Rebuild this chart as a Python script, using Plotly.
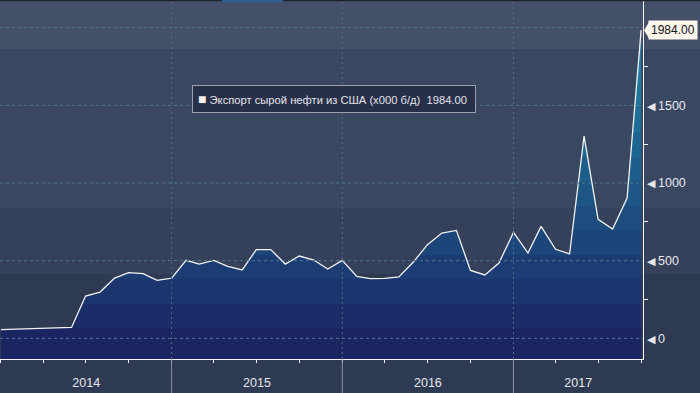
import plotly.graph_objects as go
import pandas as pd

# ---------------- data ----------------
months = pd.date_range("2014-01-01", "2017-10-01", freq="MS")
exports = [56, 58, 61, 63, 66, 70,
           272, 298, 388, 423, 416, 373,
           388, 502, 478, 502, 463, 440, 571, 571, 478, 530, 504, 446,
           502, 399, 384, 386, 395, 491, 603, 678, 695, 437, 408, 485,
           682, 549, 721, 573, 543, 1302, 766, 704, 903, 1984]
series_name = "Экспорт сырой нефти из США (х000 б/д)"
year_labels = ["2014", "2015", "2016", "2017"]
y_tick_vals = [0, 500, 1000, 1500]
y_minor_vals = [250, 750, 1250, 1750]
grid_vals = [0, 500, 1000, 1500, 2000]

X_RANGE = [pd.Timestamp("2013-12-30"), pd.Timestamp("2017-10-05")]
Y_MIN, Y_MAX = -133, 2178

# ---------------- styling ----------------
W, H = 700, 393
ML, MR, MT, MB = 0, 57, 0, 34
PW, PH = W - ML - MR, H - MT - MB
FONT = "Liberation Sans"
TXT = "#e6e6ef"

# year label positions: centre of the visible part of each year
year_pos = []
for y in year_labels:
    s = max(pd.Timestamp(f"{y}-01-01"), X_RANGE[0]) if y != year_labels[0] else pd.Timestamp(f"{y}-01-01")
    e = min(pd.Timestamp(f"{int(y)+1}-01-01"), X_RANGE[1])
    year_pos.append(s + (e - s) / 2)
quarters = pd.date_range("2014-01-01", "2017-10-01", freq="QS")
year_starts = [pd.Timestamp(f"{y}-01-01") for y in year_labels[1:]]

# banded fill gradient (discrete steps)
band_edges = [Y_MIN, 64, 222, 380, 538, 696, 854, 1012, 1170, 1328, 1486, 1644, 1802, 1960, Y_MAX]
c0, c1 = (27, 37, 98), (31, 142, 174)
nb = len(band_edges) - 1
scale = []
for i in range(nb):
    t = i / (nb - 1)
    col = "rgb(%d,%d,%d)" % tuple(round(a + (b - a) * t) for a, b in zip(c0, c1))
    lo = (band_edges[i] - Y_MIN) / (Y_MAX - Y_MIN)
    hi = (band_edges[i + 1] - Y_MIN) / (Y_MAX - Y_MIN)
    scale.append([lo, col])
    scale.append([hi, col])

fig = go.Figure()
fig.add_trace(go.Scatter(x=months, y=[Y_MIN] * len(months), mode="lines",
                         line=dict(width=0), showlegend=False, hoverinfo="skip"))
fig.add_trace(go.Scatter(
    x=months, y=exports, mode="lines", name=series_name,
    line=dict(color="#f2f2f2", width=1.3),
    fill="tonexty",
    fillgradient=dict(type="vertical", colorscale=scale, start=Y_MIN, stop=Y_MAX),
    showlegend=False))

shapes = []
# background bands (full width)
bg_bands = [(0, 49, "#444f68"), (49, 208, "#3a4761"), (208, 274, "#35415a")]
for a, b, c in bg_bands:
    shapes.append(dict(type="rect", xref="paper", yref="paper", x0=0, x1=W / PW,
                       y0=1 - b / PH, y1=1 - a / PH, fillcolor=c, line_width=0, layer="below"))
# top strip
shapes.append(dict(type="rect", xref="paper", yref="paper", x0=0, x1=W / PW,
                   y0=1 - 1.2 / PH, y1=1, fillcolor="#1e222c", line_width=0, layer="above"))
shapes.append(dict(type="rect", xref="paper", yref="paper", x0=222 / PW, x1=283 / PW,
                   y0=1 - 2.5 / PH, y1=1, fillcolor="#2b5c94", line_width=0, layer="above"))
# horizontal dotted gridlines
for v in grid_vals:
    shapes.append(dict(type="line", xref="paper", yref="y", x0=0, x1=1, y0=v, y1=v,
                       line=dict(color="#4f7890", width=1, dash="3px,3px"), layer="above"))
# year boundaries
for d in year_starts:
    shapes.append(dict(type="line", xref="x", yref="paper", x0=d, x1=d, y0=0, y1=1,
                       line=dict(color="#4f6d88", width=1, dash="2px,3px"), layer="above"))
    shapes.append(dict(type="line", xref="x", yref="paper", x0=d, x1=d, y0=-MB / PH, y1=0,
                       line=dict(color="#8a93a5", width=1), layer="above"))
# last value pointer
last = exports[-1]
shapes.append(dict(type="path", xref="paper", yref="y", xsizemode="pixel", ysizemode="pixel",
                   xanchor=1, yanchor=last, path="M 1,0 L 6,8 L 6,-8 Z",
                   fillcolor="#fdf6ec", line_width=0, layer="above"))

annotations = [
    dict(xref="paper", yref="y", x=1, y=last, xshift=5, xanchor="left", yanchor="middle",
         text=f"{last:.2f}", showarrow=False, bgcolor="#fdf6ec", borderpad=2,
         font=dict(family=FONT, size=12, color="#111111")),
    dict(xref="paper", yref="paper", x=192 / PW, y=1 - 98.5 / PH, xanchor="left", yanchor="middle",
         text=f"<span style='color:#fbf1e8;font-size:14px'>■</span> {series_name}&nbsp;&nbsp;{last:.2f}&nbsp;",
         showarrow=False, bgcolor="#283049", bordercolor="#9ba0ac", borderwidth=1, borderpad=5,
         align="left", font=dict(family=FONT, size=11.2, color="#e2e2ea")),
]

fig.update_layout(
    width=W, height=H, margin=dict(l=ML, r=MR, t=MT, b=MB, pad=0),
    paper_bgcolor="#2e3a51", plot_bgcolor="rgba(0,0,0,0)",
    showlegend=False, shapes=shapes, annotations=annotations,
    font=dict(family=FONT, size=12.5, color=TXT),
    xaxis=dict(type="date", range=X_RANGE, tickmode="array", tickvals=year_pos, ticktext=year_labels,
               ticks="", showgrid=False, zeroline=False, showline=True, linecolor="#f4f4f4", linewidth=1,
               tickfont=dict(family=FONT, size=12.5, color=TXT), ticklabelstandoff=12,
               minor=dict(tickmode="array", tickvals=list(quarters), ticks="outside", ticklen=3,
                          tickcolor="#f4f4f4", tickwidth=1, showgrid=False)),
    yaxis=dict(side="right", range=[Y_MIN, Y_MAX], tickmode="array", tickvals=y_tick_vals,
               ticktext=[f"<span style='font-size:11px'>◀</span>&nbsp;{v}" for v in y_tick_vals],
               ticks="", showgrid=False, zeroline=False, showline=True, linecolor="#f4f4f4", linewidth=1,
               tickfont=dict(family=FONT, size=12.5, color=TXT),
               minor=dict(tickmode="array", tickvals=y_minor_vals, ticks="outside", ticklen=4,
                          tickcolor="#f4f4f4", tickwidth=1, showgrid=False)),
)

fig.write_html("out.html", config={"displayModeBar": False},
               post_script="document.body.style.margin='0';document.body.style.padding='0';document.body.style.overflow='hidden';")
